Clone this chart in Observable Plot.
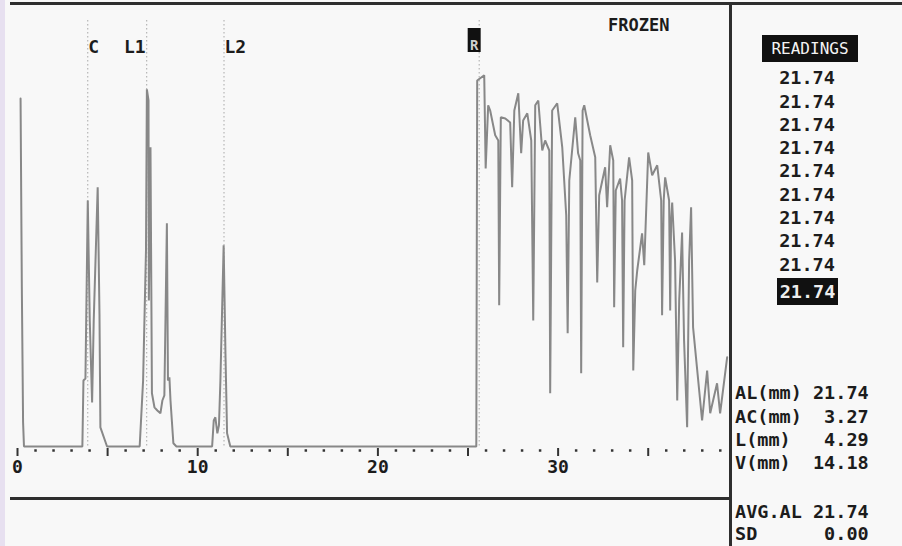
<!DOCTYPE html>
<html><head><meta charset="utf-8">
<script src="https://cdn.jsdelivr.net/npm/d3@7"></script>
<script src="https://cdn.jsdelivr.net/npm/@observablehq/plot@0.6"></script>
<style>
html,body{margin:0;padding:0;background:#f8f8f8;}
#wrap{position:relative;width:902px;height:546px;overflow:hidden;background:#f8f8f8;font-family:"DejaVu Sans Mono",monospace;font-weight:bold;color:#1c1c1c;}
.abs{position:absolute;}
.mono{font-size:18.5px;white-space:pre;}
</style></head><body>
<div id="wrap">
  <div class="abs" style="left:0;top:0;width:5px;height:546px;background:#e7e0f0"></div>
  <div id="chart" class="abs" style="left:0;top:0"></div>
  <div class="abs" style="left:10px;top:2px;width:892px;height:3px;background:#2e2e2e"></div>
  <div class="abs" style="left:729px;top:2px;width:3px;height:544px;background:#2e2e2e"></div>
  <div class="abs" style="left:10px;top:497px;width:720px;height:3px;background:#2e2e2e"></div>
  <div id="status" class="abs mono" style="left:608px;top:14px;font-size:17px;line-height:22px"></div>
  <div id="readHead" class="abs" style="left:762px;top:35px;width:96px;height:27px;background:#111;color:#f4f4f4;font-weight:normal;font-size:16px;line-height:27px;text-align:center"></div>
  <div id="readList" class="abs mono" style="left:760px;top:66.3px;width:94px;text-align:center;line-height:23.3px"></div>
  <div id="readLast" class="abs mono" style="left:777px;top:278px;width:61px;height:27px;background:#111;color:#eee;text-align:center;line-height:27px"></div>
  <div id="measList" class="abs mono" style="left:735px;top:381.3px;line-height:23.3px"></div>
  <div id="avgList" class="abs mono" style="left:735px;top:501px;line-height:22px"></div>
</div>
<script>
// ---- data ----
const traceMM = [
  0.17, 0.24, 0.31, 0.36,
  3.60, 3.66, 3.77, 3.90, 4.01, 4.14, 4.23, 4.45, 4.55, 4.60, 4.97,
  6.78, 6.97, 7.13, 7.18, 7.27, 7.29, 7.38, 7.46, 7.60, 7.76, 7.93, 8.04, 8.15, 8.29, 8.35, 8.43, 8.49, 8.65, 8.82,
  10.80, 10.89, 10.98, 11.09, 11.18, 11.26, 11.44, 11.54, 11.63, 11.81,
  25.46, 25.51, 25.90, 25.98, 26.12, 26.23, 26.51, 26.68, 26.73, 26.82,
  27.07, 27.34, 27.45, 27.57, 27.79, 27.95, 28.06, 28.29, 28.51, 28.62,
  28.73, 28.90, 29.12, 29.28, 29.51, 29.56, 29.67, 29.95, 30.23, 30.45,
  30.53, 30.62, 30.95, 31.11, 31.23, 31.28, 31.36, 31.45, 31.78, 32.06,
  32.17, 32.28, 32.61, 32.72, 32.89, 33.06, 33.11, 33.20, 33.44, 33.55,
  33.61, 33.69, 33.94, 34.11, 34.17, 34.28, 34.39, 34.66, 34.78, 35.00,
  35.22, 35.50, 35.72, 35.77, 35.86, 35.94, 36.16, 36.22, 36.27, 36.33,
  36.49, 36.61, 36.72, 36.88, 36.99, 37.16, 37.27, 37.38, 37.49, 37.99,
  38.27, 38.44, 38.82, 38.99, 39.38
];
const traceAmp = [
  87, 40, 6, 0,
  0, 16.5, 17, 61.5, 31.5, 11, 31.5, 64.8, 32.8, 4.8, 0,
  0, 16.5, 49, 89.3, 86.5, 36.5, 74.8, 13.3, 9.8, 9, 8.3, 11.5, 12.8, 55.8, 16.5, 17.3, 11.5, 0.8, 0,
  0, 6.5, 7.3, 3.3, 5.3, 16.5, 50.3, 23.3, 3.3, 0,
  0, 91.5, 92.8, 69.5, 85.3, 84, 77.8, 76.5, 35.3, 82.3,
  82, 81, 64.8, 84, 88.3, 73.3, 81.5, 83.3, 76.5, 31.5,
  85.3, 86.5, 74, 76.5, 74, 13.3, 84, 85.8, 74.8, 57.8,
  28.3, 66.5, 82.3, 73.3, 71.5, 18.3, 84, 85.3, 77.8, 72.3,
  41, 62.8, 69.8, 59.8, 75.3, 71.5, 34.8, 64, 67, 61.5,
  24.8, 61.5, 72.3, 66.5, 19, 39, 44, 53.3, 45.3, 73.5,
  67.8, 70.3, 61.5, 32.8, 61.5, 67.3, 61.5, 34, 56.5, 61,
  46.5, 11.5, 36.5, 53.5, 26.5, 4.8, 46.5, 59.8, 29.8, 6.5,
  19, 8.3, 15.8, 8.3, 22.3
];
const gateNames = ["C", "L1", "L2", "R"];
const gatePos = [3.90, 7.17, 11.46, 25.62];
const xTickLabels = [0, 10, 20, 30];
const majorTicks = [0, 5, 10, 15, 20, 25, 30, 35];
const minorTicks = d3.range(1, 40).filter(d => d % 5 !== 0);
const statusText = "FROZEN";
const readingsTitle = "READINGS";
const readings = [21.74, 21.74, 21.74, 21.74, 21.74, 21.74, 21.74, 21.74, 21.74, 21.74];
const measureLabels = ["AL(mm)", "AC(mm)", "L(mm)", "V(mm)"];
const measureValues = [21.74, 3.27, 4.29, 14.18];
const avgLabels = ["AVG.AL", "SD"];
const avgValues = [21.74, 0.00];

// ---- build ----
const trace = traceMM.map((x, i) => ({x, y: traceAmp[i]}));
const gates = gateNames.map((name, i) => ({name, pos: gatePos[i]}));
const retinaGate = gates.filter(d => d.name === "R");
const ink = "#1c1c1c";

const chart = Plot.plot({
  width: 730, height: 546,
  marginLeft: 17, marginRight: 3, marginTop: 46, marginBottom: 100,
  x: {domain: [0, 39.4], axis: null},
  y: {domain: [0, 100], axis: null},
  style: {background: "transparent", fontFamily: "DejaVu Sans Mono, monospace", fontWeight: "bold", overflow: "visible"},
  marks: [
    Plot.ruleX(gates, {x: "pos", stroke: "#a8a8a8", strokeWidth: 1, strokeDasharray: "1.5,2.5", insetTop: -26}),
    Plot.line(trace, {x: "x", y: "y", stroke: "#888", strokeWidth: 2, strokeLinejoin: "miter"}),
    Plot.text(gates.filter(d => d.name === "C" || d.name === "L2"), {x: "pos", text: "name", frameAnchor: "top", dy: -6, dx: 0.5, textAnchor: "start", fontSize: 18, fill: ink}),
    Plot.text(gates.filter(d => d.name === "L1"), {x: "pos", text: "name", frameAnchor: "top", dy: -6, dx: -1, textAnchor: "end", fontSize: 18, fill: ink}),
    Plot.ruleX(retinaGate, {x: "pos", dx: -5, insetTop: -18, insetBottom: 394, stroke: "#111", strokeWidth: 13}),
    Plot.text(retinaGate, {x: "pos", text: "name", frameAnchor: "top", dy: -6, dx: -5, fontSize: 14, fill: "#cfcfcf"}),
    Plot.ruleX(majorTicks, {x: d => d, insetTop: 402, insetBottom: -10, stroke: "#333", strokeWidth: 2}),
    Plot.dot(minorTicks, {x: d => d, frameAnchor: "bottom", dy: 4, symbol: "square", r: 1.4, fill: "#333", stroke: "none"}),
    Plot.text(xTickLabels, {x: d => d, text: d => String(d), frameAnchor: "bottom", dy: 26, fontSize: 18, fill: ink})
  ]
});
document.getElementById("chart").appendChild(chart);

// ---- side panel text ----
document.getElementById("status").textContent = statusText;
document.getElementById("readHead").textContent = readingsTitle;
document.getElementById("readList").textContent = readings.slice(0, -1).map(v => v.toFixed(2)).join("\n");
document.getElementById("readLast").textContent = readings[readings.length - 1].toFixed(2);
const pad = (l, v) => l + v.toFixed(2).padStart(12 - l.length);
document.getElementById("measList").textContent = measureLabels.map((l, i) => pad(l, measureValues[i])).join("\n");
document.getElementById("avgList").textContent = avgLabels.map((l, i) => pad(l, avgValues[i])).join("\n");
</script>
</body></html>
